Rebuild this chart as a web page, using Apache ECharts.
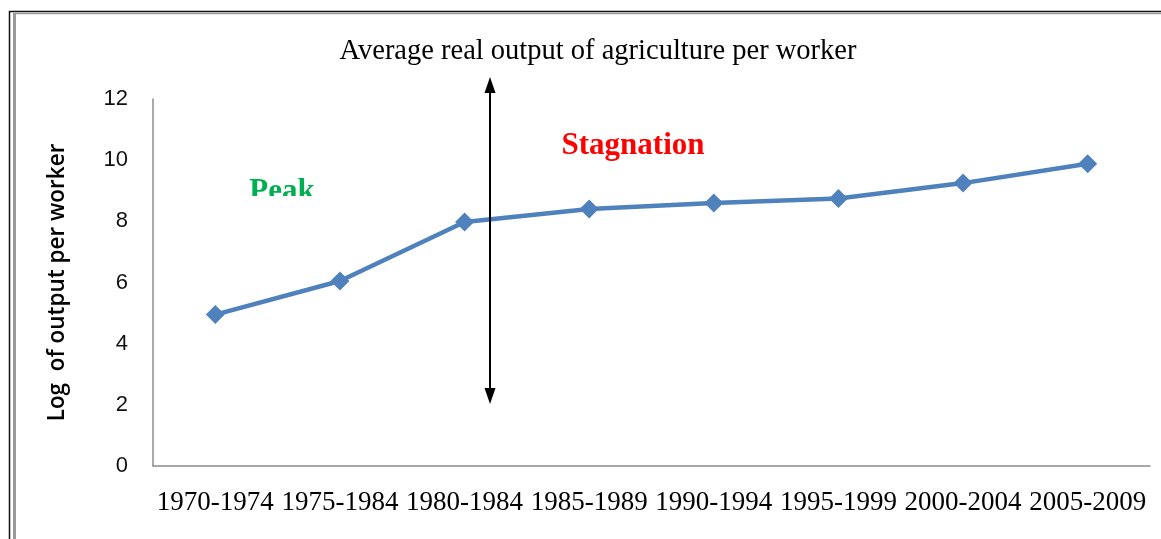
<!DOCTYPE html>
<html>
<head>
<meta charset="utf-8">
<script src="https://cdn.jsdelivr.net/npm/echarts@6/dist/echarts.min.js"></script>
<style>
html,body{margin:0;padding:0;background:#fff;}
#chart{width:1161px;height:539px;}
</style>
</head>
<body>
<div id="chart"></div>
<script>
const categories = ['1970-1974','1975-1984','1980-1984','1985-1989','1990-1994','1995-1999','2000-2004','2005-2009'];
const outputPerWorker = [4.95, 6.05, 7.98, 8.4, 8.6, 8.75, 9.25, 9.88];
const yTicks = { min: 0, max: 12, interval: 2 };
const chartTitle = 'Average real output of agriculture per worker';
const yAxisName = 'Log  of output per worker';

const chart = echarts.init(document.getElementById('chart'));
chart.setOption({
  animation: false,
  backgroundColor: '#fff',
  grid: { left: 153, right: 11, top: 99, bottom: 73, containLabel: false },
  xAxis: {
    type: 'category',
    data: categories,
    boundaryGap: true,
    axisLine: { lineStyle: { color: '#8c8c8c', width: 1.5 } },
    axisTick: { show: false },
    axisLabel: { color: '#000', fontFamily: 'Liberation Serif', fontSize: 27, margin: 23, interval: 0 }
  },
  yAxis: {
    type: 'value',
    min: yTicks.min, max: yTicks.max, interval: yTicks.interval,
    name: yAxisName,
    nameLocation: 'middle',
    nameGap: 84,
    nameTextStyle: { color: '#000', fontFamily: 'Open Sans', fontWeight: 600, fontSize: 22.5 },
    axisLine: { show: true, lineStyle: { color: '#8c8c8c', width: 1.5 } },
    axisTick: { show: false },
    splitLine: { show: false },
    axisLabel: { color: '#111', fontFamily: 'Liberation Sans', fontSize: 22, margin: 25 }
  },
  series: [{
    type: 'line',
    data: outputPerWorker,
    lineStyle: { color: '#4F81BD', width: 4.5 },
    itemStyle: { color: '#4F81BD' },
    symbol: 'diamond',
    symbolSize: 19,
    z: 3
  }],
  graphic: [
    { type: 'rect', shape: { x: 9.5, y: 11.5, width: 1200, height: 600 }, style: { fill: 'none', stroke: '#111', lineWidth: 1.5 }, z: 0 },
    { type: 'line', shape: { x1: 14.5, y1: 14, x2: 14.5, y2: 539 }, style: { stroke: '#9a9a9a', lineWidth: 3 }, z: 0 },
    { type: 'line', shape: { x1: 13, y1: 13.5, x2: 1161, y2: 13.5 }, style: { stroke: '#9a9a9a', lineWidth: 1.5 }, z: 0 },
    { type: 'text', x: 598, y: 52, style: { text: chartTitle, fontFamily: 'Liberation Serif', fontSize: 28.5, fill: '#000', textAlign: 'center', textVerticalAlign: 'middle' }, z: 10 },
    { type: 'line', shape: { x1: 490, y1: 88, x2: 490, y2: 392 }, style: { stroke: '#000', lineWidth: 2 }, z: 10 },
    { type: 'polygon', shape: { points: [[490, 77], [484.5, 93], [495.5, 93]] }, style: { fill: '#000' }, z: 10 },
    { type: 'polygon', shape: { points: [[490, 404], [484.5, 388], [495.5, 388]] }, style: { fill: '#000' }, z: 10 },
    { type: 'text', x: 633, y: 146, style: { text: 'Stagnation', fontFamily: 'Liberation Serif', fontWeight: 'bold', fontSize: 31, fill: '#FF0000', textAlign: 'center', textVerticalAlign: 'middle' }, z: 10 },
    { type: 'text', x: 282, y: 192, style: { text: 'Peak', fontFamily: 'Liberation Serif', fontWeight: 'bold', fontSize: 31, fill: '#00B050', textAlign: 'center', textVerticalAlign: 'middle' }, z: 10 },
    { type: 'rect', shape: { x: 240, y: 196, width: 90, height: 18 }, style: { fill: '#fff' }, z: 11 }
  ]
});
</script>
</body>
</html>
